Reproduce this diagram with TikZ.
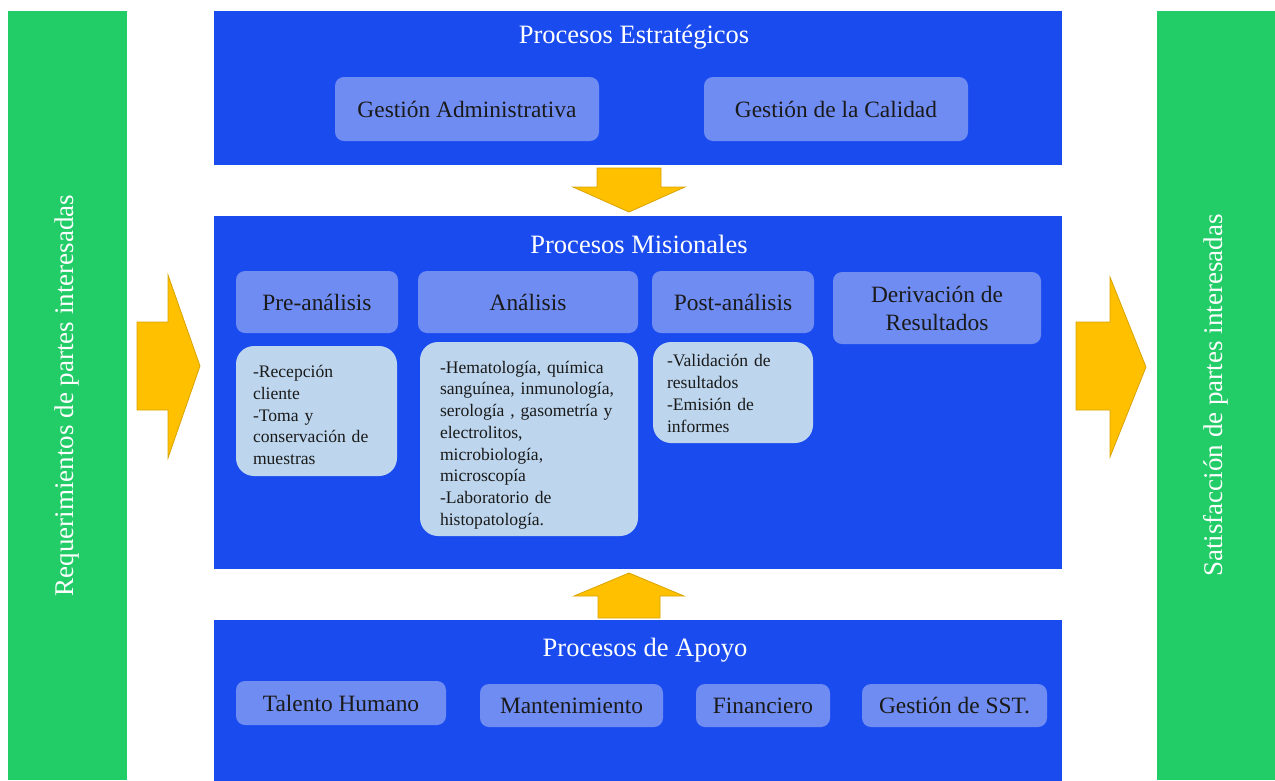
\documentclass[tikz,border=0pt]{standalone}
\usepackage{fontspec}
\setmainfont{Liberation Serif}
\definecolor{pblue}{HTML}{1A4BEF}
\definecolor{mblue}{HTML}{6F8CF2}
\definecolor{sblue}{HTML}{BDD6EE}
\definecolor{pgreen}{HTML}{22CC66}
\definecolor{ayellow}{HTML}{FFC000}
\definecolor{aborder}{HTML}{D9A300}
\definecolor{dtext}{HTML}{1A1A1A}
\tikzset{
  panel/.style={fill=pblue, draw=none, inner sep=0pt},
  sidebar/.style={fill=pgreen, draw=none, inner sep=0pt},
  ptitle/.style={text=white, font=\fontsize{26.5}{30}\selectfont, inner sep=0pt},
  sidetext/.style={text=white, font=\fontsize{27}{30}\selectfont, rotate=90, inner sep=0pt},
  mbox/.style={fill=mblue, draw=none, rounded corners=9pt, text=dtext,
    font=\fontsize{23.4}{28}\selectfont, align=center, inner sep=0pt},
  sbox/.style={fill=sblue, draw=none, rounded corners=18pt, inner sep=0pt},
  stext/.style={text=dtext, font=\fontsize{17.6}{21.7}\selectfont, align=left, inner sep=0pt},
  barrow/.style={fill=ayellow, draw=aborder, line width=0.8pt, line join=miter}
}
\begin{document}
\begin{tikzpicture}[x=1pt,y=-1pt]
\useasboundingbox (0,0) rectangle (1275,780);
% side bars
\node[sidebar, minimum width=119pt, minimum height=769pt] (lbar) at (67.5,395.5) {};
\node[sidebar, minimum width=118pt, minimum height=769pt] (rbar) at (1216,395.5) {};
\node[sidetext] (ltext) at (lbar.center) {Requerimientos de partes interesadas};
\node[sidetext] (rtext) at (rbar.center) {Satisfacción de partes interesadas};
% panels
\node[panel, minimum width=848pt, minimum height=154pt] (top) at (638,88) {};
\node[panel, minimum width=848pt, minimum height=353pt] (mid) at (638,392.5) {};
\node[panel, minimum width=848pt, minimum height=161pt] (bot) at (638,700) {};
% titles
\node[ptitle] (ttop) at (634,37) {Procesos Estratégicos};
\node[ptitle] (tmid) at (639,244) {Procesos Misionales};
\node[ptitle] (tbot) at (645,650) {Procesos de Apoyo};
% strategic boxes
\node[mbox, minimum width=264pt, minimum height=64pt] (ga) at (467,109) {Gestión Administrativa};
\node[mbox, minimum width=264pt, minimum height=64pt] (gc) at (836,109) {Gestión de la Calidad};
% missional headers
\node[mbox, minimum width=162pt, minimum height=62pt] (pre) at (317,302) {Pre-análisis};
\node[mbox, minimum width=220pt, minimum height=62pt] (ana) at (528,302) {Análisis};
\node[mbox, minimum width=162pt, minimum height=62pt] (post) at (733,302) {Post-análisis};
\node[mbox, minimum width=208pt, minimum height=72pt, font=\fontsize{23.4}{28}\selectfont] (der) at (937,308) {Derivación de\\Resultados};
% missional detail boxes
\node[sbox, minimum width=161pt, minimum height=130pt] (pred) at (316.5,411) {};
\node[stext, text width=130pt, anchor=west] (predt) at ([xshift=17pt, yshift=-4pt]pred.west) {-Recepción\\cliente\\-Toma y\\conservación de\\muestras};
\node[sbox, minimum width=218pt, minimum height=194pt] (anad) at (529,439) {};
\node[stext, text width=200pt, anchor=west] (anadt) at ([xshift=20pt, yshift=-6pt]anad.west) {-Hematología, química\\sanguínea, inmunología,\\serología , gasometría y\\electrolitos,\\microbiología,\\microscopía\\-Laboratorio de\\histopatología.};
\node[sbox, minimum width=160pt, minimum height=101pt] (postd) at (733,392.5) {};
\node[stext, text width=140pt, anchor=west] (postdt) at ([xshift=14pt, yshift=-1pt]postd.west) {-Validación de\\resultados\\-Emisión de\\informes};
% support boxes
\node[mbox, minimum width=210pt, minimum height=44pt] (th) at (341,703) {Talento Humano};
\node[mbox, minimum width=183pt, minimum height=43pt] (mt) at (571.5,705.5) {Mantenimiento};
\node[mbox, minimum width=134pt, minimum height=43pt] (fi) at (763,705.5) {Financiero};
\node[mbox, minimum width=185pt, minimum height=43pt] (sst) at (954.5,705.5) {Gestión de SST.};
% block arrows
\draw[barrow] (597,168) -- (661,168) -- (661,187) -- (685,187) -- (629,212) -- (573,187) -- (597,187) -- cycle;
\draw[barrow] (629,573) -- (684,596) -- (660,596) -- (660,618) -- (598,618) -- (598,596) -- (574,596) -- cycle;
\draw[barrow] (137,322) -- (168,322) -- (168,275) -- (200,366) -- (168,458) -- (168,410) -- (137,410) -- cycle;
\draw[barrow] (1076,322) -- (1110,322) -- (1110,277) -- (1146,367) -- (1110,457) -- (1110,410) -- (1076,410) -- cycle;
\end{tikzpicture}
\end{document}
